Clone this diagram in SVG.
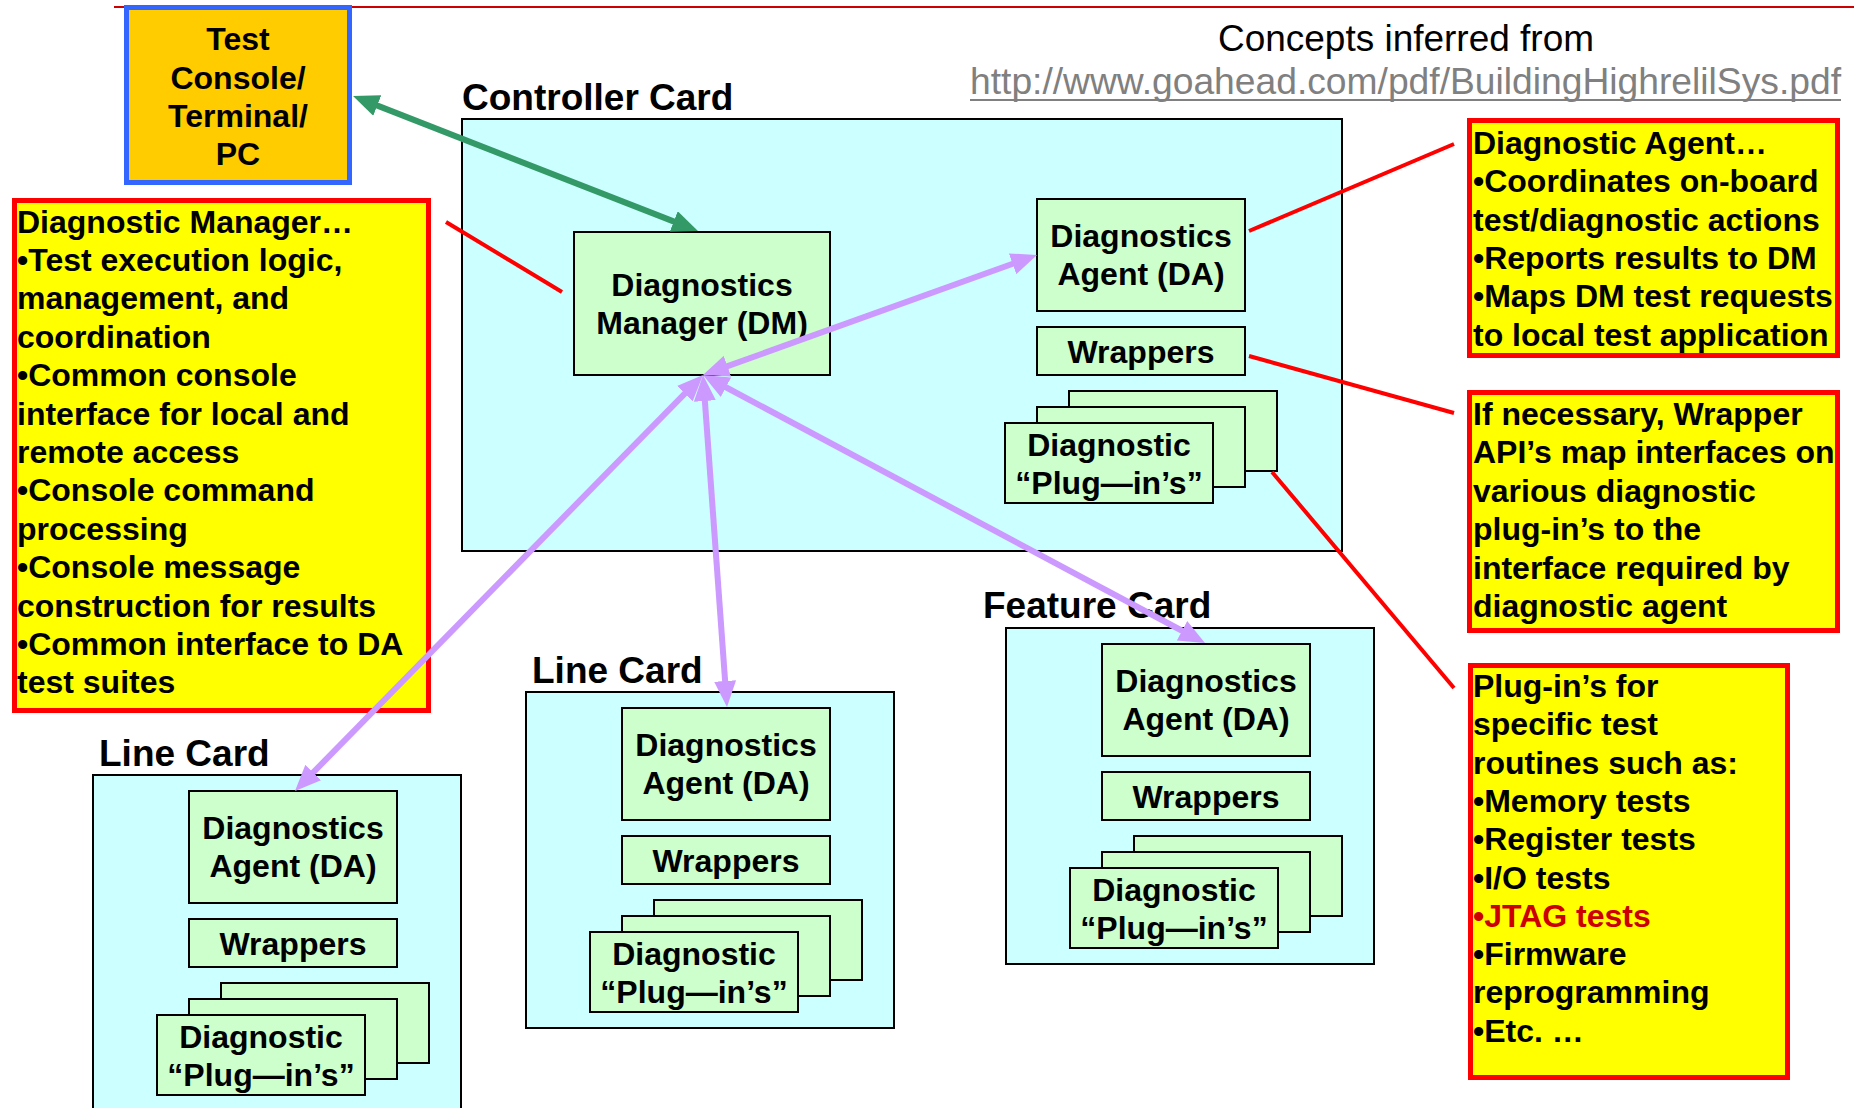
<svg xmlns="http://www.w3.org/2000/svg" width="1854" height="1108" viewBox="0 0 1854 1108">
  <style>
    text { font-family: "Liberation Sans", Arial, sans-serif; fill: #000; }
    .b { font-weight: 700; font-size: 32px; }
    .c { text-anchor: middle; }
    .hd { font-weight: 700; font-size: 37px; }
    .card { fill: #CCFFFF; stroke: #000; stroke-width: 2; }
    .box { fill: #CCFFCC; stroke: #000; stroke-width: 2; }
    .note { fill: #FFFF00; stroke: #FF0000; stroke-width: 5; }
    .lead { stroke: #FF0000; stroke-width: 4; fill: none; }
    .pa { stroke: #CC99FF; stroke-width: 6; fill: none; marker-start: url(#headP); marker-end: url(#headP); }
    .ga { stroke: #339966; stroke-width: 6; fill: none; marker-start: url(#headG); marker-end: url(#headG); }
    .red { fill: #CC0000; }
  </style>
  <defs>
    <marker id="headP" viewBox="0 0 26 22" markerWidth="26" markerHeight="22" markerUnits="userSpaceOnUse" refX="8" refY="11" orient="auto-start-reverse">
      <path d="M0,0 L26,11 L0,22 z" fill="#CC99FF"/>
    </marker>
    <marker id="headG" viewBox="0 0 26 22" markerWidth="26" markerHeight="22" markerUnits="userSpaceOnUse" refX="8" refY="11" orient="auto-start-reverse">
      <path d="M0,0 L26,11 L0,22 z" fill="#339966"/>
    </marker>
  </defs>

  <rect width="1854" height="1108" fill="#FFFFFF"/>

  <!-- header rule and source reference -->
  <line x1="114" y1="7" x2="1854" y2="7" stroke="#CC0000" stroke-width="2"/>
  <g id="source-note">
    <text x="1406" y="51" class="c" font-size="36" textLength="376" lengthAdjust="spacingAndGlyphs">Concepts inferred from</text>
    <text x="970" y="94" font-size="36" style="fill:#808080" textLength="871" lengthAdjust="spacingAndGlyphs">http://www.goahead.com/pdf/BuildingHighrelilSys.pdf</text>
    <line x1="970" y1="100" x2="1841" y2="100" stroke="#808080" stroke-width="2"/>
  </g>

  <!-- test console -->
  <g id="test-console">
    <rect x="126.5" y="7.5" width="223" height="175" fill="#FFCC00" stroke="#3366FF" stroke-width="5"/>
    <text class="b c" x="238" y="50">Test</text>
    <text class="b c" x="238" y="88.5">Console/</text>
    <text class="b c" x="238" y="127">Terminal/</text>
    <text class="b c" x="238" y="165">PC</text>
  </g>

  <!-- controller card -->
  <g id="controller-card">
    <rect class="card" x="462" y="119" width="880" height="432"/>
    <text class="hd" x="462" y="110">Controller Card</text>
    <g id="cc-dm">
      <rect class="box" x="574" y="232" width="256" height="143"/>
      <text class="b c" x="702" y="296">Diagnostics</text>
      <text class="b c" x="702" y="334">Manager (DM)</text>
    </g>
    <g transform="translate(941,183)">
      <g id="cc-da">
        <rect class="box" x="96" y="16" width="208" height="112"/>
        <text class="b c" x="200" y="64">Diagnostics</text>
        <text class="b c" x="200" y="102">Agent (DA)</text>
      </g>
      <g id="cc-wrappers">
        <rect class="box" x="96" y="144" width="208" height="48"/>
        <text class="b c" x="200" y="180">Wrappers</text>
      </g>
      <g id="cc-plugins">
        <rect class="box" x="128" y="208" width="208" height="80"/>
        <rect class="box" x="96" y="224" width="208" height="80"/>
        <rect class="box" x="64" y="240" width="208" height="80"/>
        <text class="b c" x="168" y="273">Diagnostic</text>
        <text class="b c" x="168" y="311">“Plug—in’s”</text>
      </g>
    </g>
  </g>

  <!-- line card (left) -->
  <g id="line-card-1" transform="translate(93,775)">
    <rect class="card" x="0" y="0" width="368" height="336"/>
    <text class="hd" x="6" y="-9">Line Card</text>
    <g id="lc1-da">
      <rect class="box" x="96" y="16" width="208" height="112"/>
      <text class="b c" x="200" y="64">Diagnostics</text>
      <text class="b c" x="200" y="102">Agent (DA)</text>
    </g>
    <g id="lc1-wrappers">
      <rect class="box" x="96" y="144" width="208" height="48"/>
      <text class="b c" x="200" y="180">Wrappers</text>
    </g>
    <g id="lc1-plugins">
      <rect class="box" x="128" y="208" width="208" height="80"/>
      <rect class="box" x="96" y="224" width="208" height="80"/>
      <rect class="box" x="64" y="240" width="208" height="80"/>
      <text class="b c" x="168" y="273">Diagnostic</text>
      <text class="b c" x="168" y="311">“Plug—in’s”</text>
    </g>
  </g>

  <!-- line card (middle) -->
  <g id="line-card-2" transform="translate(526,692)">
    <rect class="card" x="0" y="0" width="368" height="336"/>
    <text class="hd" x="6" y="-9">Line Card</text>
    <g id="lc2-da">
      <rect class="box" x="96" y="16" width="208" height="112"/>
      <text class="b c" x="200" y="64">Diagnostics</text>
      <text class="b c" x="200" y="102">Agent (DA)</text>
    </g>
    <g id="lc2-wrappers">
      <rect class="box" x="96" y="144" width="208" height="48"/>
      <text class="b c" x="200" y="180">Wrappers</text>
    </g>
    <g id="lc2-plugins">
      <rect class="box" x="128" y="208" width="208" height="80"/>
      <rect class="box" x="96" y="224" width="208" height="80"/>
      <rect class="box" x="64" y="240" width="208" height="80"/>
      <text class="b c" x="168" y="273">Diagnostic</text>
      <text class="b c" x="168" y="311">“Plug—in’s”</text>
    </g>
  </g>

  <!-- feature card -->
  <g id="feature-card" transform="translate(1006,628)">
    <rect class="card" x="0" y="0" width="368" height="336"/>
    <text class="hd" x="-23" y="-10">Feature Card</text>
    <g id="fc-da">
      <rect class="box" x="96" y="16" width="208" height="112"/>
      <text class="b c" x="200" y="64">Diagnostics</text>
      <text class="b c" x="200" y="102">Agent (DA)</text>
    </g>
    <g id="fc-wrappers">
      <rect class="box" x="96" y="144" width="208" height="48"/>
      <text class="b c" x="200" y="180">Wrappers</text>
    </g>
    <g id="fc-plugins">
      <rect class="box" x="128" y="208" width="208" height="80"/>
      <rect class="box" x="96" y="224" width="208" height="80"/>
      <rect class="box" x="64" y="240" width="208" height="80"/>
      <text class="b c" x="168" y="273">Diagnostic</text>
      <text class="b c" x="168" y="311">“Plug—in’s”</text>
    </g>
  </g>

  <!-- callout: diagnostic manager -->
  <g id="note-dm">
    <rect class="note" x="14.5" y="200.5" width="414" height="510"/>
    <text class="b" x="17" y="232.5">Diagnostic Manager…</text>
    <text class="b" x="17" y="270.9">•Test execution logic,</text>
    <text class="b" x="17" y="309.3">management, and</text>
    <text class="b" x="17" y="347.7">coordination</text>
    <text class="b" x="17" y="386.1">•Common console</text>
    <text class="b" x="17" y="424.5">interface for local and</text>
    <text class="b" x="17" y="462.9">remote access</text>
    <text class="b" x="17" y="501.3">•Console command</text>
    <text class="b" x="17" y="539.7">processing</text>
    <text class="b" x="17" y="578.1">•Console message</text>
    <text class="b" x="17" y="616.5">construction for results</text>
    <text class="b" x="17" y="654.9">•Common interface to DA</text>
    <text class="b" x="17" y="693.3">test suites</text>
  </g>

  <!-- callout: diagnostic agent -->
  <g id="note-da">
    <rect class="note" x="1469.5" y="120.5" width="368" height="235"/>
    <text class="b" x="1473" y="154">Diagnostic Agent…</text>
    <text class="b" x="1473" y="192.3">•Coordinates on-board</text>
    <text class="b" x="1473" y="230.6">test/diagnostic actions</text>
    <text class="b" x="1473" y="268.9">•Reports results to DM</text>
    <text class="b" x="1473" y="307.2">•Maps DM test requests</text>
    <text class="b" x="1473" y="345.5">to local test application</text>
  </g>

  <!-- callout: wrappers -->
  <g id="note-wrappers">
    <rect class="note" x="1469.5" y="392.5" width="368" height="238"/>
    <text class="b" x="1473" y="425">If necessary, Wrapper</text>
    <text class="b" x="1473" y="463.4">API’s map interfaces on</text>
    <text class="b" x="1473" y="501.8">various diagnostic</text>
    <text class="b" x="1473" y="540.2">plug-in’s to the</text>
    <text class="b" x="1473" y="578.6">interface required by</text>
    <text class="b" x="1473" y="617">diagnostic agent</text>
  </g>

  <!-- callout: plug-ins -->
  <g id="note-plugins">
    <rect class="note" x="1470.5" y="665.5" width="317" height="412"/>
    <text class="b" x="1473" y="697">Plug-in’s for</text>
    <text class="b" x="1473" y="735.3">specific test</text>
    <text class="b" x="1473" y="773.6">routines such as:</text>
    <text class="b" x="1473" y="811.9">•Memory tests</text>
    <text class="b" x="1473" y="850.2">•Register tests</text>
    <text class="b" x="1473" y="888.5">•I/O tests</text>
    <text class="b red" x="1473" y="926.8">•JTAG tests</text>
    <text class="b" x="1473" y="965.1">•Firmware</text>
    <text class="b" x="1473" y="1003.4">reprogramming</text>
    <text class="b" x="1473" y="1041.7">•Etc. …</text>
  </g>

  <!-- connectors -->
  <g id="connectors">
    <line class="lead" x1="446" y1="222" x2="562" y2="292"/>
    <line class="lead" x1="1249" y1="231" x2="1454" y2="144"/>
    <line class="lead" x1="1249" y1="356" x2="1454" y2="413"/>
    <line class="lead" x1="1272" y1="472" x2="1454" y2="688"/>

    <line class="ga" x1="369.8" y1="102.6" x2="681.2" y2="224.4"/>

    <line class="pa" x1="719.9" y1="368.9" x2="1020.1" y2="261.1"/>
    <line class="pa" x1="690.4" y1="387.9" x2="307.6" y2="778.2"/>
    <line class="pa" x1="704.3" y1="393.0" x2="725.7" y2="689.0"/>
    <line class="pa" x1="718.9" y1="383.5" x2="1189.1" y2="634.5"/>
  </g>
</svg>
